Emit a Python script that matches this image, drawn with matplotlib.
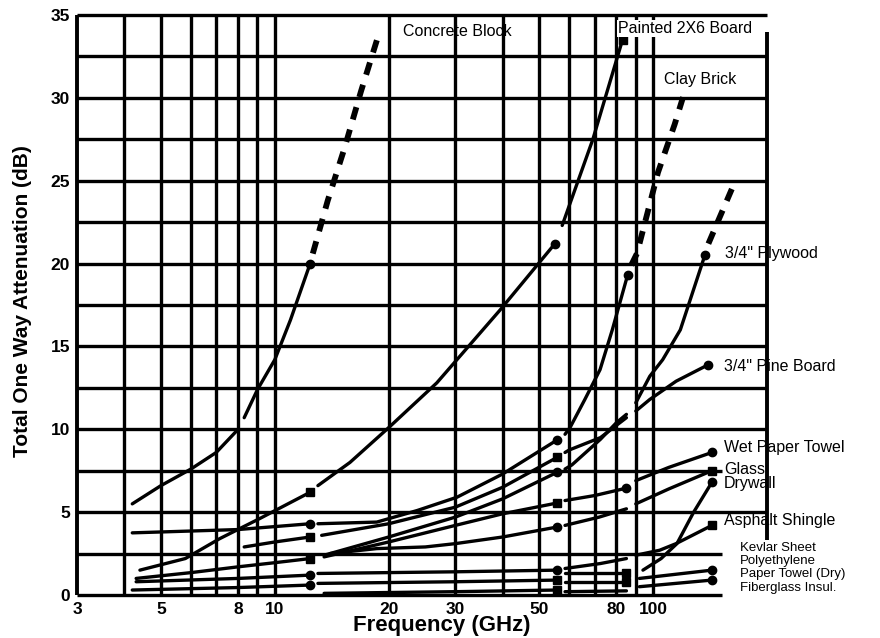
import matplotlib
matplotlib.use("Agg")
import matplotlib.pyplot as plt

plt.rcParams['font.family'] = ['Liberation Sans', 'DejaVu Sans']

# ---------------- measured one-way attenuation (GHz, dB) ----------------
# Measurement bands: ~4-12.4 GHz, ~13-56 GHz, ~58-85 GHz, ~90-145 GHz

concrete_f1 = [4.2, 5.0, 6.0, 7.0, 8.0]
concrete_db1 = [5.5, 6.6, 7.6, 8.6, 10.0]
concrete_f2 = [8.3, 9.0, 10.0, 11.0, 12.4]
concrete_db2 = [10.7, 12.4, 14.2, 16.6, 20.0]
concrete_fx = [12.6, 13.8, 15.3, 16.9, 18.8]
concrete_dbx = [20.6, 23.8, 27.0, 30.4, 33.8]

painted_f1 = [4.4, 5.8, 7.15, 9.1, 12.4]
painted_db1 = [1.5, 2.2, 3.4, 4.6, 6.2]
painted_f2 = [13.0, 15.8, 20.0, 26.8, 39.4, 55.0]
painted_db2 = [6.6, 8.0, 10.1, 12.8, 17.2, 21.2]
painted_f3 = [57.5, 69.3, 83.0]
painted_db3 = [22.3, 27.5, 33.5]

brick_f1 = [4.2, 8.0, 12.4]
brick_db1 = [3.75, 3.95, 4.3]
brick_f2 = [13.0, 18.6, 23.8, 30.3, 40.0, 55.7]
brick_db2 = [4.3, 4.4, 5.1, 5.9, 7.3, 9.35]
brick_f3 = [58.5, 60.3, 66.0, 72.4, 78.0, 85.6]
brick_db3 = [9.7, 10.1, 11.8, 13.6, 16.0, 19.3]
brick_fx = [87.5, 90.6, 103.0, 114.0, 121.7]
brick_dbx = [19.9, 20.6, 25.5, 28.4, 30.5]

plywood_f1 = [4.3, 6.0, 8.0, 10.0, 12.4]
plywood_db1 = [1.0, 1.35, 1.7, 1.95, 2.2]
plywood_f2 = [13.5, 20.0, 30.0, 40.0, 55.7]
plywood_db2 = [2.4, 3.5, 4.7, 5.8, 7.4]
plywood_f3 = [58.5, 61.0, 72.6, 80.0, 85.0]
plywood_db3 = [7.6, 7.85, 9.4, 10.4, 10.9]
plywood_f4 = [90.0, 98.0, 106.0, 118.0, 137.0]
plywood_db4 = [11.6, 13.2, 14.2, 16.0, 20.5]
plywood_fx = [140.0, 150.0, 165.0]
plywood_dbx = [21.2, 22.8, 25.0]

pine_f1 = [8.3, 10.0, 12.4]
pine_db1 = [2.9, 3.2, 3.5]
pine_f2 = [13.3, 20.0, 30.0, 40.0, 55.7]
pine_db2 = [3.6, 4.3, 5.3, 6.5, 8.3]
pine_f3 = [58.5, 60.0, 72.6, 85.0]
pine_db3 = [8.6, 8.75, 9.5, 10.7]
pine_f4 = [90.0, 98.0, 115.0, 140.0]
pine_db4 = [11.1, 11.8, 12.9, 13.9]

wet_f2 = [13.5, 20.0, 30.0, 40.0, 55.7]
wet_db2 = [2.3, 3.2, 4.2, 4.9, 5.55]
wet_f3 = [58.5, 70.0, 85.0]
wet_db3 = [5.7, 6.0, 6.45]
wet_f4 = [90.0, 110.0, 143.0]
wet_db4 = [6.9, 7.7, 8.6]

glass_f2 = [14.0, 18.6, 25.0, 30.0, 40.0, 55.7]
glass_db2 = [2.5, 2.8, 2.9, 3.1, 3.5, 4.1]
glass_f3 = [58.5, 72.0, 85.0]
glass_db3 = [4.2, 4.7, 5.2]
glass_f4 = [90.0, 110.0, 143.0]
glass_db4 = [5.5, 6.4, 7.5]

drywall_f4 = [94.0, 105.0, 115.6, 128.0, 143.0]
drywall_db4 = [1.5, 2.2, 3.1, 5.0, 6.8]

shingle_f3 = [58.5, 72.6, 85.0]
shingle_db3 = [1.6, 1.9, 2.2]
shingle_f4 = [90.0, 104.0, 115.0, 143.0]
shingle_db4 = [2.4, 2.7, 3.1, 4.2]

towel_f1 = [4.3, 8.0, 12.4]
towel_db1 = [0.8, 1.0, 1.2]
towel_f2 = [13.0, 30.0, 55.7]
towel_db2 = [1.3, 1.4, 1.5]
towel_f3 = [58.5, 85.0]
towel_db3 = [1.3, 1.3]
towel_f4 = [92.0, 143.0]
towel_db4 = [1.0, 1.5]

poly_f2 = [13.0, 30.0, 55.7]
poly_db2 = [0.7, 0.8, 0.9]
poly_f3 = [58.5, 85.0]
poly_db3 = [0.8, 0.8]
poly_f4 = [92.0, 143.0]
poly_db4 = [0.5, 0.9]

fiber_f1 = [4.2, 8.0, 12.4]
fiber_db1 = [0.3, 0.45, 0.6]
fiber_f2 = [13.5, 30.0, 55.7]
fiber_db2 = [0.1, 0.2, 0.3]
fiber_f3 = [58.5, 85.0]
fiber_db3 = [0.2, 0.25]

x_ticks = [3, 5, 8, 10, 20, 30, 50, 80, 100]
y_ticks = [0, 5, 10, 15, 20, 25, 30, 35]

# ---------------- figure ----------------
fig = plt.figure(figsize=(8.8, 6.38), dpi=100)
ax = fig.add_axes([77 / 880, 43 / 638, 690 / 880, 580 / 638])
ax.set_xscale('log')
ax.set_xlim(3, 200)
ax.set_ylim(0, 35)
for s in ax.spines.values():
    s.set_visible(False)

GRID_LW = 2.4
# vertical grid (decade sub-divisions)
grid_x = [4, 5, 6, 7, 8, 9, 10, 20, 30, 40, 50, 60, 70, 80, 90, 100]
ax.vlines(grid_x, 0, 35, colors='k', lw=GRID_LW, zorder=1)
ax.vlines([3], 0, 35, colors='k', lw=GRID_LW + 0.4, zorder=7, clip_on=False)
ax.vlines([200], 3.3, 34.0, colors='k', lw=GRID_LW + 0.4, zorder=1, clip_on=False)

# horizontal grid every 2.5 dB
for lev in [2.5 * k for k in range(15)]:
    xmax = 152 if lev in (0.0, 2.5, 7.5) else 200
    z = 7 if lev == 35.0 else 1
    ax.hlines(lev, 3, xmax, colors='k', lw=GRID_LW, zorder=z, clip_on=False)

# ---------------- curves ----------------
LW = 2.4
solid = [
    (concrete_f1, concrete_db1, None), (concrete_f2, concrete_db2, 'o'),
    (painted_f1, painted_db1, 's'), (painted_f2, painted_db2, 'o'), (painted_f3, painted_db3, 's'),
    (brick_f1, brick_db1, 'o'), (brick_f2, brick_db2, 'o'), (brick_f3, brick_db3, 'o'),
    (plywood_f1, plywood_db1, 's'), (plywood_f2, plywood_db2, 'o'),
    (plywood_f3, plywood_db3, None), (plywood_f4, plywood_db4, 'o'),
    (pine_f1, pine_db1, 's'), (pine_f2, pine_db2, 's'), (pine_f3, pine_db3, None),
    (pine_f4, pine_db4, 'o'),
    (wet_f2, wet_db2, 's'), (wet_f3, wet_db3, 'o'), (wet_f4, wet_db4, 'o'),
    (glass_f2, glass_db2, 'o'), (glass_f3, glass_db3, None), (glass_f4, glass_db4, 's'),
    (drywall_f4, drywall_db4, 'o'),
    (shingle_f3, shingle_db3, None), (shingle_f4, shingle_db4, 's'),
    (towel_f1, towel_db1, 'o'), (towel_f2, towel_db2, 'o'), (towel_f3, towel_db3, 's'),
    (towel_f4, towel_db4, 'o'),
    (poly_f2, poly_db2, 's'), (poly_f3, poly_db3, 's'), (poly_f4, poly_db4, 'o'),
    (fiber_f1, fiber_db1, 'o'), (fiber_f2, fiber_db2, 's'), (fiber_f3, fiber_db3, None),
]
for f, db, mk in solid:
    ax.plot(f, db, color='k', lw=LW, solid_capstyle='round', zorder=3)
    if mk:
        ax.plot(f[-1], db[-1], marker=mk, color='k', ms=6, zorder=4, clip_on=False)

# extrapolated portions
for f, db in [(concrete_fx, concrete_dbx), (brick_fx, brick_dbx), (plywood_fx, plywood_dbx)]:
    ax.plot(f, db, color='k', lw=4.2, linestyle=(0, (2.2, 1.8)), dash_capstyle='butt', zorder=3)

# ---------------- labels ----------------
ax.set_xticks(x_ticks)
ax.set_xticklabels([str(t) for t in x_ticks])
ax.xaxis.set_minor_locator(matplotlib.ticker.NullLocator())
ax.set_yticks(y_ticks)
ax.tick_params(length=0, labelsize=12.5, pad=5)
for lab in ax.get_xticklabels() + ax.get_yticklabels():
    lab.set_fontweight('bold')

fig.text(23 / 880, 1 - 301 / 638, 'Total One Way Attenuation (dB)', rotation=90,
         ha='center', va='center', fontsize=15, fontweight='bold')
fig.text(442 / 880, 1 - 626 / 638, 'Frequency (GHz)', ha='center', va='center',
         fontsize=16, fontweight='bold')

lab_kw = dict(fontsize=11.5, ha='left', va='center', clip_on=False, zorder=6)
ax.text(21.8, 34.0, 'Concrete Block', **lab_kw)
ax.text(80.8, 34.2, 'Painted 2X6 Board',
        bbox=dict(facecolor='white', edgecolor='none', pad=0.8), **lab_kw)
ax.text(107, 31.1, 'Clay Brick', **lab_kw)
ax.text(155, 20.6, '3/4" Plywood', **lab_kw)
ax.text(154, 13.8, '3/4" Pine Board', **lab_kw)
ax.text(154, 8.9, 'Wet Paper Towel', **lab_kw)
ax.text(154, 7.6, 'Glass', **lab_kw)
ax.text(154, 6.7, 'Drywall', **lab_kw)
ax.text(154, 4.5, 'Asphalt Shingle', **lab_kw)
small_kw = dict(lab_kw, fontsize=9.5)
ax.text(170, 2.85, 'Kevlar Sheet', **small_kw)
ax.text(170, 2.05, 'Polyethylene', **small_kw)
ax.text(170, 1.25, 'Paper Towel (Dry)', **small_kw)
ax.text(170, 0.45, 'Fiberglass Insul.', **small_kw)

fig.savefig('out.png', dpi=100)
